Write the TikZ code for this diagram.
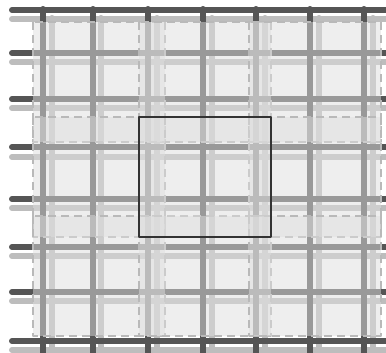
\documentclass[tikz,border=0pt]{standalone}
\usepackage{tikz}
\definecolor{bardark}{HTML}{555555}
\definecolor{barlight}{HTML}{BDBDBD}
\definecolor{tilegray}{HTML}{DEDEDE}
\tikzset{darkbar/.style={line width=6pt,draw=bardark,line cap=round},
  lightbar/.style={line width=6pt,draw=barlight,line cap=round},
  tile/.style={fill=tilegray,fill opacity=0.5,draw=gray!55,line width=1.2pt,dash pattern=on 8pt off 5pt},
  supercell/.style={draw=black!80,line width=1.1pt}}

\begin{document}
\begin{tikzpicture}[x=1pt,y=-1pt,line join=round]
\clip (0,0) rectangle (386,353);
% --- shifted (light) lattice
\draw[lightbar] (12,19) -- (400,19) (12,62) -- (400,62) (12,108) -- (400,108) (12,157) -- (400,157)
  (12,208) -- (400,208) (12,256) -- (400,256) (12,301) -- (400,301) (12,350) -- (400,350);
\draw[lightbar] (52,18) -- (52,370) (101,18) -- (101,370) (157,18) -- (157,370) (212,18) -- (212,370)
  (265,18) -- (265,370) (319,18) -- (319,370) (373,18) -- (373,370);
% --- base (dark) lattice
\draw[darkbar] (12,10) -- (400,10) (12,53) -- (400,53) (12,99) -- (400,99) (12,147) -- (400,147)
  (12,199) -- (400,199) (12,247) -- (400,247) (12,292) -- (400,292) (12,341) -- (400,341);
\draw[darkbar] (43,9) -- (43,370) (93,9) -- (93,370) (148,9) -- (148,370) (203,9) -- (203,370)
  (256,9) -- (256,370) (310,9) -- (310,370) (364,9) -- (364,370);
% --- neighbouring supercells
\draw[tile] (33,22) rectangle (165,142); \draw[tile] (139,22) rectangle (271,142); \draw[tile] (249,22) rectangle (381,142);
\draw[tile] (33,117) rectangle (165,237); \draw[tile] (249,117) rectangle (381,237);
\draw[tile] (33,216) rectangle (165,336); \draw[tile] (139,216) rectangle (271,336); \draw[tile] (249,216) rectangle (381,336);
% --- central supercell
\fill[tilegray,fill opacity=0.5] (139,117) rectangle (271,237);
\draw[supercell] (139,117) rectangle (271,237);
\end{tikzpicture}
\end{document}
